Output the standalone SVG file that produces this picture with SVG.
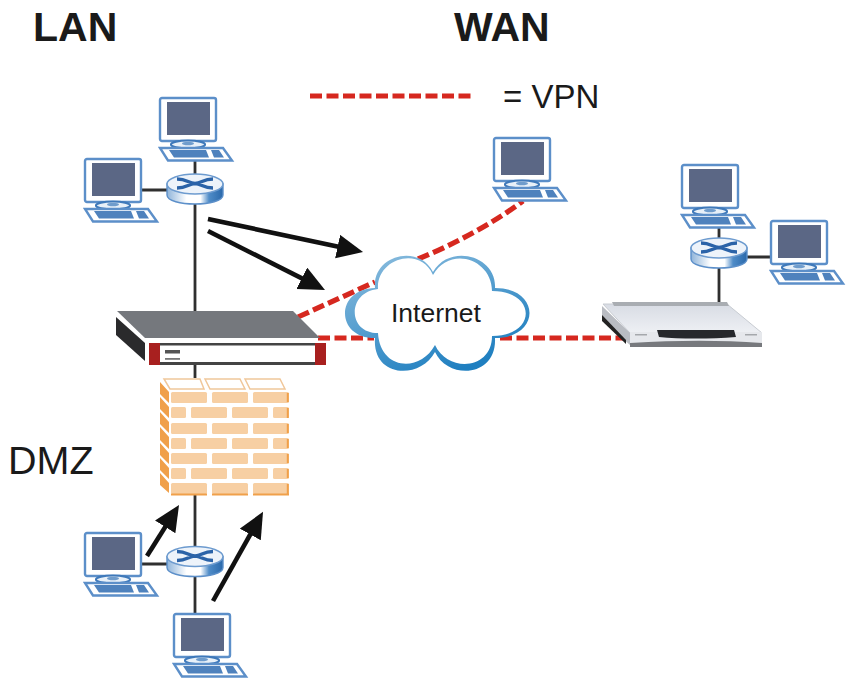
<svg xmlns="http://www.w3.org/2000/svg" xmlns:xlink="http://www.w3.org/1999/xlink" width="850" height="682" viewBox="0 0 850 682">
<style>
.h{font-family:"Liberation Sans",Arial,sans-serif;fill:#1a1a1a}
.wire{stroke:#2f2f2f;stroke-width:2.8;fill:none}
.vpn{stroke:#d6281f;stroke-width:5.200;stroke-dasharray:12 4.500;fill:none}
.arrow{stroke:#111;stroke-width:4.600;fill:none}
.brick{fill:#f7cfa3}
.edge{fill:#f0a04a}
</style>
<defs>
<linearGradient id="rt" x1="0" x2="1" y1="0" y2="0"><stop offset="0" stop-color="#8fb4da"/><stop offset=".35" stop-color="#fff"/><stop offset=".6" stop-color="#fff"/><stop offset=".75" stop-color="#4f8cc8"/><stop offset="1" stop-color="#2a68aa"/></linearGradient>
<linearGradient id="cl" x1="0" x2=".6" y1="0" y2="1"><stop offset="0" stop-color="#8fbfdf"/><stop offset="1" stop-color="#1f7fc0"/></linearGradient>
<linearGradient id="mod" x1="0" x2="0" y1="0" y2="1"><stop offset="0" stop-color="#d8dce4"/><stop offset="1" stop-color="#eef0f4"/></linearGradient>
<marker id="ah" markerUnits="userSpaceOnUse" markerWidth="28" markerHeight="26" refX="19" refY="12" orient="auto"><path d="M0 0L26 12L0 24Z" fill="#111"/></marker>
<g id="pc">
<rect x="1" y="1" width="56" height="43" rx="2" fill="#fff" stroke="#5c8fc9" stroke-width="2.400"/>
<rect x="8" y="5" width="43" height="33" fill="#5b6785"/>
<ellipse cx="29" cy="47.500" rx="17" ry="4" fill="#e8f0f8" stroke="#3f79ba" stroke-width="2.200"/>
<ellipse cx="29" cy="46.500" rx="6" ry="1.800" fill="#6f9ccc"/>
<path d="M1 51H64L73 63.500H9Z" fill="#fff" stroke="#5c8fc9" stroke-width="2.400"/>
<path d="M10 53H47L50 60.500H15ZM52 53H60L65 60.500H55Z" fill="#4f82bd"/>
</g>
<g id="router">
<path d="M-28 -5V6C-28 12 -14 15 0 15S28 12 28 6V-5Z" fill="url(#rt)" stroke="#5c8fc9" stroke-width="1.400"/>
<ellipse cx="0" cy="-5" rx="28" ry="10" fill="#edf3fa" stroke="#6d9bcf" stroke-width="1.500"/>
<path d="M-18 -10C-8 -10 -7 -6 0 -5.500C7 -6 8 -10 18 -10M-18 -1C-8 -1 -7 -5 0 -5.500C7 -5 8 -1 18 -1" fill="none" stroke="#2b63a8" stroke-width="3.400"/>
</g>
<g id="row1"><rect x="0" width="36" height="11" rx="1.500" class="brick"/><rect x="41" width="36" height="11" rx="1.500" class="brick"/><rect x="82" width="36" height="11" rx="1.500" class="brick"/></g>
<g id="row2"><rect x="0" width="15" height="11" rx="1.500" class="brick"/><rect x="20" width="36" height="11" rx="1.500" class="brick"/><rect x="61" width="36" height="11" rx="1.500" class="brick"/><rect x="102" width="16" height="11" rx="1.500" class="brick"/></g>
</defs>

<rect width="850" height="682" fill="#fff"/>

<g id="connectors">
<path class="wire" d="M195 158V311M142 190H167M195 365V378M195 495V547M142 564H167M195 576V613M719 228V240M719 268V302M747 257H771"/>
<path class="vpn" d="M310 96H474"/>
<path class="vpn" d="M298 317L375 282M418 259C455 244 495 222 523 201"/>
<path class="vpn" d="M318 338H374M500 338H625"/>
<path class="arrow" marker-end="url(#ah)" d="M208 219L356.200 250.550"/>
<path class="arrow" marker-end="url(#ah)" d="M208 231L318.750 286.850"/>
<path class="arrow" marker-end="url(#ah)" d="M147 556L175.300 510.900"/>
<path class="arrow" marker-end="url(#ah)" d="M213 601L259.600 517.900"/>
</g>

<g id="lan-pc-1"><use xlink:href="#pc" href="#pc" x="159" y="97"/></g>
<g id="lan-pc-2"><use xlink:href="#pc" href="#pc" x="84" y="158"/></g>
<g id="lan-switch"><use xlink:href="#router" href="#router" x="195" y="189"/></g>
<g id="wan-pc"><use xlink:href="#pc" href="#pc" x="493" y="137"/></g>
<g id="remote-pc-1"><use xlink:href="#pc" href="#pc" x="681" y="164"/></g>
<g id="remote-pc-2"><use xlink:href="#pc" href="#pc" x="770" y="220"/></g>
<g id="remote-switch"><use xlink:href="#router" href="#router" x="719" y="253"/></g>
<g id="dmz-pc-1"><use xlink:href="#pc" href="#pc" x="84" y="532"/></g>
<g id="dmz-pc-2"><use xlink:href="#pc" href="#pc" x="173" y="613"/></g>
<g id="dmz-switch"><use xlink:href="#router" href="#router" x="195" y="561.500"/></g>

<g id="firewall-device">
<path d="M117 311H293L320 338H145Z" fill="#75787d"/>
<path d="M116 317L145 343V361L116 335Z" fill="#2a2a2c"/>
<rect x="149" y="343" width="177" height="22" fill="#a8201f"/>
<rect x="160" y="345" width="155" height="17" fill="#fff"/>
<rect x="160" y="343" width="155" height="2.500" fill="#444"/>
<rect x="160" y="362" width="155" height="3" fill="#444"/>
<rect x="165" y="350" width="15" height="3.500" fill="#555"/>
<rect x="165" y="358" width="15" height="1.800" fill="#777"/>
</g>

<g id="brick-wall">
<path d="M164 379H200L204 389H170ZM205 379H240L245 389H210ZM245 379H280L285 389H250Z" fill="#fff" stroke="#f0c79a" stroke-width="1.500"/>
<path d="M160 382L169 392V403L160 394ZM160 397L169 407V418L160 409ZM160 412L169 422V433L160 424ZM160 427L169 437V449L160 440ZM160 443L169 453V464L160 455ZM160 458L169 468V479L160 470ZM160 473L169 483V493L160 485Z" class="edge"/>
<use xlink:href="#row1" href="#row1" x="171" y="392"/>
<use xlink:href="#row2" href="#row2" x="171" y="407"/>
<use xlink:href="#row1" href="#row1" x="171" y="423"/>
<use xlink:href="#row2" href="#row2" x="171" y="438"/>
<use xlink:href="#row1" href="#row1" x="171" y="453"/>
<use xlink:href="#row2" href="#row2" x="171" y="468"/>
<use xlink:href="#row1" href="#row1" x="171" y="483"/>
<path d="M171 494.500H207M212 494.500H248M253 494.500H289" fill="none" stroke="#f0a04a" stroke-width="1.800"/>
<path d="M287.800 393V402M287.800 408V418M287.800 424V433M287.800 439V448M287.800 454V463M287.800 469V478M287.800 484V494" fill="none" stroke="#f0a04a" stroke-width="2"/>
</g>

<g id="internet-cloud">
<path d="M375 288C372 256 418 243 433 272C450 243 497 256 495 288C541 288 541 338 495 338C497 378 448 380 435 352C420 380 372 378 375 338C335 338 335 289 375 288Z" fill="url(#cl)"/>
<path d="M378 289C376 259 420 245 433 275C450 245 492 259 492 291C537 291 537 336 492 336C492 370 448 373 435 345C420 373 380 370 378 333C347 333 347 292 378 289Z" fill="#fff"/>
<text class="h" x="391" y="322" font-size="26.500">Internet</text>
</g>

<g id="remote-gateway">
<path d="M603 304H727L762 333H630Z" fill="url(#mod)" stroke="#c8ccd2" stroke-width="1"/>
<path d="M612 302H727L729 306H614Z" fill="#a9adb2"/>
<path d="M602 306L630 333V345L602 320Z" fill="#b9bcc2"/>
<path d="M602 315L626 340V344L602 321Z" fill="#222"/>
<path d="M630 332H762V347H630Z" fill="#e6e8ec"/>
<path d="M657 330H734L736 337C710 339 680 339 659 337Z" fill="#26282c"/>
<rect x="635" y="334" width="12" height="1.500" fill="#a5a8ac"/>
<rect x="745" y="334" width="12" height="1.500" fill="#a5a8ac"/>
<path d="M630 343C680 340 720 340 762 343V347H630Z" fill="#77797d"/>
</g>

<g id="labels">
<text class="h" x="33" y="41" font-size="41" font-weight="bold">LAN</text>
<text class="h" x="454" y="41" font-size="41" font-weight="bold">WAN</text>
<text class="h" x="503" y="108" font-size="33">= VPN</text>
<text class="h" x="8" y="474" font-size="39.500">DMZ</text>
</g>
</svg>
